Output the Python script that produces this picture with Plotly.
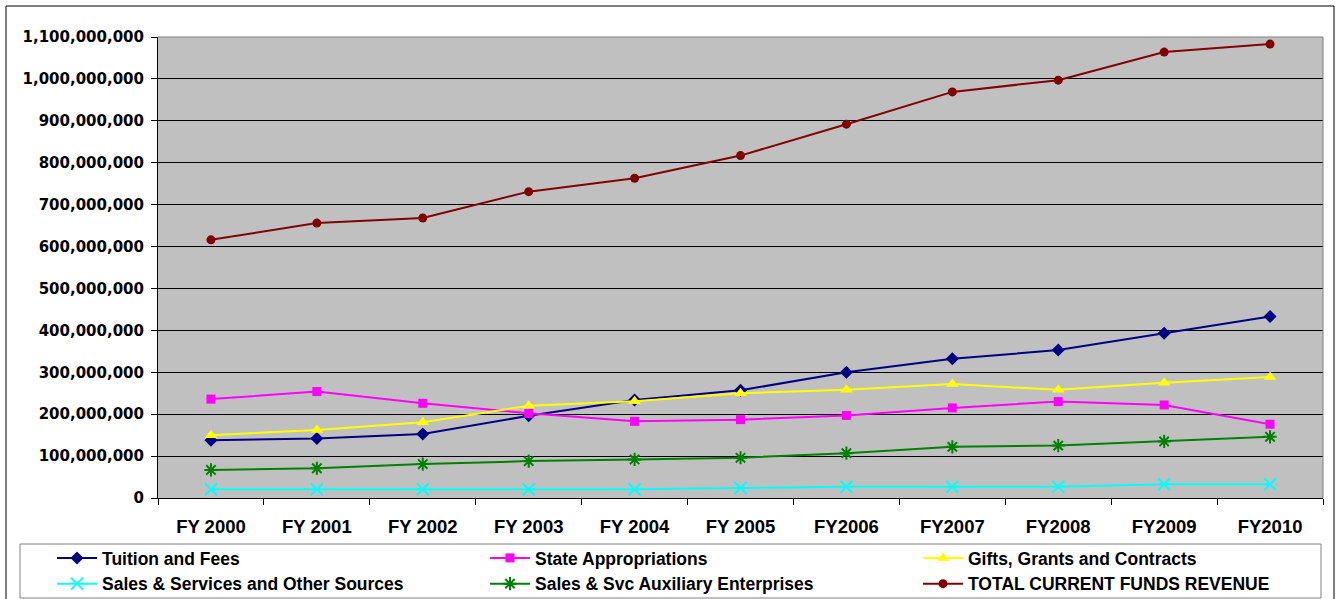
import plotly.graph_objects as go

years = ["FY 2000", "FY 2001", "FY 2002", "FY 2003", "FY 2004", "FY 2005",
         "FY2006", "FY2007", "FY2008", "FY2009", "FY2010"]

tuition = [138e6, 142e6, 153e6, 196e6, 234e6, 257e6, 300e6, 332e6, 353e6, 393e6, 433e6]
state = [236e6, 254e6, 226e6, 202e6, 183e6, 187e6, 197e6, 215e6, 230e6, 222e6, 176e6]
gifts = [150e6, 162e6, 181e6, 220e6, 231e6, 250e6, 258e6, 272e6, 258e6, 275e6, 289e6]
sales = [21e6, 21e6, 21e6, 21e6, 21e6, 24e6, 27e6, 27e6, 27e6, 33e6, 33e6]
aux = [67e6, 71e6, 81e6, 88e6, 92e6, 96e6, 107e6, 122e6, 125e6, 135e6, 146e6]
total = [616e6, 656e6, 668e6, 731e6, 763e6, 817e6, 892e6, 969e6, 997e6, 1064e6, 1083e6]

y_ticks = list(range(0, 1100000001, 100000000))

series = [
    ("Tuition and Fees", tuition, "#000080", "diamond", 10, None),
    ("State Appropriations", state, "#FF00FF", "square", 9, None),
    ("Gifts, Grants and Contracts", gifts, "#FFFF00", "triangle-up", 11, None),
    ("Sales & Services and Other Sources", sales, "#00FFFF", "x-thin-open", 12, 2),
    ("Sales & Svc Auxiliary Enterprises", aux, "#008000", "asterisk-open", 11, 2),
    ("TOTAL CURRENT FUNDS REVENUE", total, "#800000", "circle", 9, None),
]

fig = go.Figure()
for name, vals, color, sym, size, lw in series:
    marker = dict(symbol=sym, size=size, color=color)
    if lw:
        marker["line"] = dict(color=color, width=lw)
    fig.add_trace(go.Scatter(x=years, y=vals, name=name, mode="lines+markers",
                             line=dict(color=color, width=2), marker=marker))

W, H = 1338, 599
L, R, T, B = 158, 15, 37, 101
pw, ph = W - L - R, H - T - B

def px(xp):
    return (xp - L) / pw

def py(yp):
    return (H - B - yp) / ph

shapes = [
    # outer chart border
    dict(type="rect", xref="paper", yref="paper", x0=px(6), x1=px(1334), y0=py(620), y1=py(6),
         line=dict(color="black", width=1)),
    # legend box
    dict(type="rect", xref="paper", yref="paper", x0=px(20), x1=px(1321), y0=py(598), y1=py(544),
         line=dict(color="#808080", width=1)),
    # plot area top and right border
    dict(type="line", xref="paper", yref="paper", x0=0, x1=1, y0=1, y1=1,
         line=dict(color="#808080", width=1)),
    dict(type="line", xref="paper", yref="paper", x0=1, x1=1, y0=0, y1=1,
         line=dict(color="#808080", width=1)),
]

fig.update_layout(
    width=W, height=H,
    margin=dict(l=L, r=R, t=T, b=B, autoexpand=False),
    paper_bgcolor="white",
    plot_bgcolor="#C0C0C0",
    showlegend=True,
    shapes=shapes,
    legend=dict(orientation="h", x=px(52), y=py(540), xanchor="left", yanchor="top",
                entrywidth=378, itemwidth=40, bgcolor="rgba(0,0,0,0)",
                font=dict(family="Liberation Sans", size=17.5, color="black", weight="bold"),
                traceorder="normal", tracegroupgap=0),
    xaxis=dict(type="category", showgrid=False, showline=True, linecolor="black", linewidth=1,
               ticks="outside", ticklen=6, tickcolor="black", tickson="boundaries",
               ticklabelstandoff=12,
               tickfont=dict(family="Liberation Sans", size=18.5, color="black", weight="bold"),
               range=[-0.5, 10.5], fixedrange=True),
    yaxis=dict(range=[0, 1100000000], tickvals=y_ticks, tickformat=",.0f",
               showgrid=True, gridcolor="black", gridwidth=1, zeroline=False,
               showline=True, linecolor="black", linewidth=1,
               ticks="outside", ticklen=6, tickcolor="black", ticklabelstandoff=4,
               tickfont=dict(family="DejaVu Sans", size=15, color="black", weight="bold")),
)

fig.write_html("out.html",
               config={"displayModeBar": False},
               post_script="document.body.style.margin='0';document.body.style.overflow='hidden';")
